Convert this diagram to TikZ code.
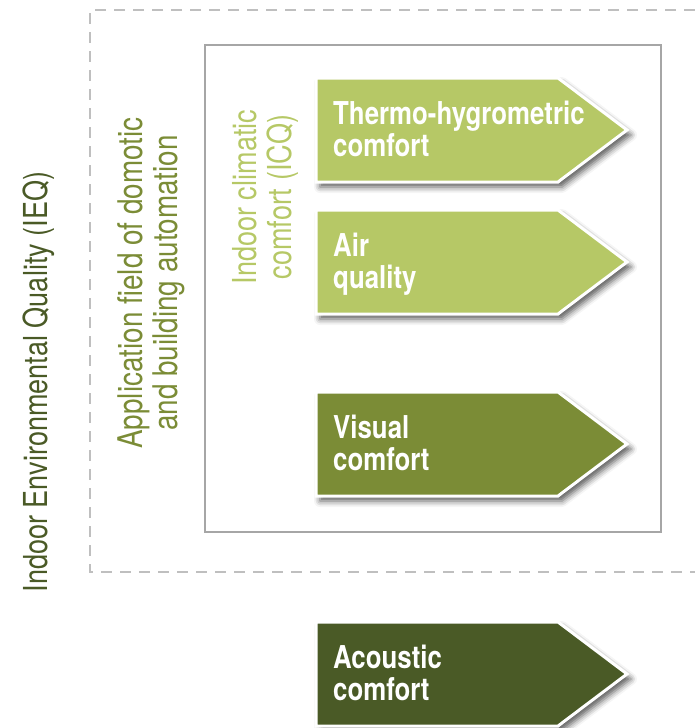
\documentclass[tikz,border=0pt]{standalone}
\usepackage{fontspec}
\setmainfont[FakeStretch=0.82]{TeX Gyre Heros}
\usepackage{xcolor}
\usepackage{tikz}
\usetikzlibrary{shadows.blur}
\definecolor{icqgreen}{HTML}{B6C866}
\definecolor{autogreen}{HTML}{7B8C36}
\definecolor{ieqgreen}{HTML}{4A5A26}
\begin{document}
\begin{tikzpicture}[x=1pt,y=-1pt,
    label/.style={rotate=90,align=center,inner sep=0pt,font=\fontsize{33}{35}\selectfont},
    comfortbox/.style={draw=white,line width=3pt,line join=miter,
        blur shadow={shadow xshift=4pt,shadow yshift=-5pt,shadow blur radius=6pt,shadow opacity=65}},
    comforttext/.style={anchor=north west,inner sep=0pt,align=left,text=white,
        font=\fontsize{31.5}{32}\selectfont\bfseries}]
\useasboundingbox (0,0) rectangle (695,728);
% frames
\draw[gray!50,line width=1.2pt,dash pattern=on 11pt off 8pt] (695,10) -- (90,10) -- (90,572) -- (695,572);
\draw[gray!70,line width=1.2pt] (205,45) rectangle (661,532);
% rotated labels
\node[label,text=ieqgreen] (ieq) at (39,382) {Indoor Environmental Quality (IEQ)};
\node[label,text=autogreen,font=\fontsize{34}{35}\selectfont] (auto) at (151,283) {Application field of domotic\\and building automation};
\node[label,text=icqgreen] (icq) at (265,197) {Indoor climatic\\comfort (ICQ)};
% comfort arrows
\foreach \t/\col/\name/\txt in {78/icqgreen/thermo/{Thermo-hygrometric\\comfort},
    210/icqgreen/air/{Air\\quality},
    392/autogreen/visual/{Visual\\comfort},
    622/ieqgreen/acoustic/{Acoustic\\comfort}}
{
    \filldraw[comfortbox,fill=\col] (316,\t) -- (558,\t) -- (627,\t+52) -- (558,\t+104) -- (316,\t+104) -- cycle;
    \node[comforttext] (\name) at (333,\t+23) {\txt};
}
\end{tikzpicture}
\end{document}
